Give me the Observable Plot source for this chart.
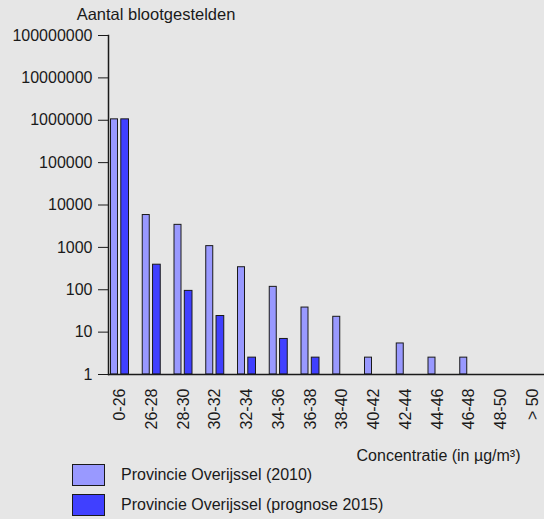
<!DOCTYPE html>
<html>
<head>
<meta charset="utf-8">
<script src="https://cdn.jsdelivr.net/npm/d3@7"></script>
<script src="https://cdn.jsdelivr.net/npm/@observablehq/plot@0.6"></script>
<style>
  html, body { margin: 0; padding: 0; background: #e6e6e6; }
  body { position: relative; width: 544px; height: 519px; overflow: hidden; font-family: "Liberation Sans", Arial, sans-serif; color: #1a1a1a; }
  #chart svg { display: block; background: #e6e6e6; overflow: visible; }
  .row { position: absolute; left: 72px; display: flex; align-items: center; font-size: 16px; }
  .sw { width: 31px; height: 20px; border: 1px solid #1a1a1a; margin-right: 16px; }
</style>
</head>
<body>
<div id="chart"></div>
<div id="legend"></div>
<script>
const categories = ["0-26","26-28","28-30","30-32","32-34","34-36","36-38","38-40","40-42","42-44","44-46","46-48","48-50","> 50"];
const values2010 = [1050000, 5800, 3400, 1070, 340, 117, 38, 23, 2.5, 5.4, 2.5, 2.5, 0, 0];
const values2015 = [1050000, 390, 94, 24, 2.5, 6.9, 2.5, 0, 0, 0, 0, 0, 0, 0];
const seriesNames = ["Provincie Overijssel (2010)", "Provincie Overijssel (prognose 2015)"];
const seriesColors = ["#9999ff", "#4040ff"];
const yTicks = [1, 10, 100, 1000, 10000, 100000, 1000000, 10000000, 100000000];
const yTitle = "Aantal blootgestelden";
const xTitle = "Concentratie (in µg/m³)";

const d2010 = categories.map((c, i) => ({cat: c, value: values2010[i]}));
const d2015 = categories.map((c, i) => ({cat: c, value: values2015[i]}));

const W = 544, H = 466, ML = 108, step = 31.75, shift = 4.4;
const plot = Plot.plot({
  width: W,
  height: H,
  marginLeft: ML,
  marginRight: 0,
  marginTop: 35,
  marginBottom: H - 374,
  style: {fontFamily: "'Liberation Sans', Arial, sans-serif", fontSize: "16px", color: "#1a1a1a", background: "#e6e6e6", overflow: "visible"},
  x: {type: "band", domain: categories, range: [ML - shift, ML - shift + step * categories.length], padding: 0, round: false},
  y: {type: "log", domain: [1, 1e8]},
  marks: [
    Plot.barY(d2010, {x: "cat", y1: 1, y2: d => Math.max(1, d.value), fill: seriesColors[0], stroke: "#1a1a1a", strokeWidth: 1, insetLeft: 2.5 + shift, insetRight: step - 9.5 - shift}),
    Plot.barY(d2015, {x: "cat", y1: 1, y2: d => Math.max(1, d.value), fill: seriesColors[1], stroke: "#1a1a1a", strokeWidth: 1, insetLeft: 12.8 + shift, insetRight: step - 20.5 - shift}),
    Plot.ruleY([1], {stroke: "#1a1a1a", strokeWidth: 1.5}),
    Plot.frame({anchor: "left", stroke: "#1a1a1a", strokeWidth: 1.5}),
    Plot.axisY({ticks: yTicks, tickFormat: d => String(d), tickSize: 10, tickPadding: 6, label: null, stroke: "#1a1a1a", fontSize: 16}),
    Plot.axisX({tickSize: 0, tickPadding: 14, tickRotate: -90, label: null, fontSize: 16}),
    Plot.text([yTitle], {frameAnchor: "top-left", textAnchor: "middle", lineAnchor: "middle", dx: 47.5, dy: -21, fontSize: 16.5, fill: "#1a1a1a"}),
    Plot.text([xTitle], {frameAnchor: "bottom-right", textAnchor: "end", lineAnchor: "middle", dx: -24, dy: 81, fontSize: 16, fill: "#1a1a1a"})
  ]
});
document.getElementById("chart").appendChild(plot);

const legend = document.getElementById("legend");
seriesNames.forEach((name, i) => {
  const row = document.createElement("div");
  row.className = "row";
  row.style.top = (464 + i * 30) + "px";
  const sw = document.createElement("div");
  sw.className = "sw";
  sw.style.background = seriesColors[i];
  const t = document.createElement("span");
  t.textContent = name;
  row.appendChild(sw);
  row.appendChild(t);
  legend.appendChild(row);
});
</script>
</body>
</html>
